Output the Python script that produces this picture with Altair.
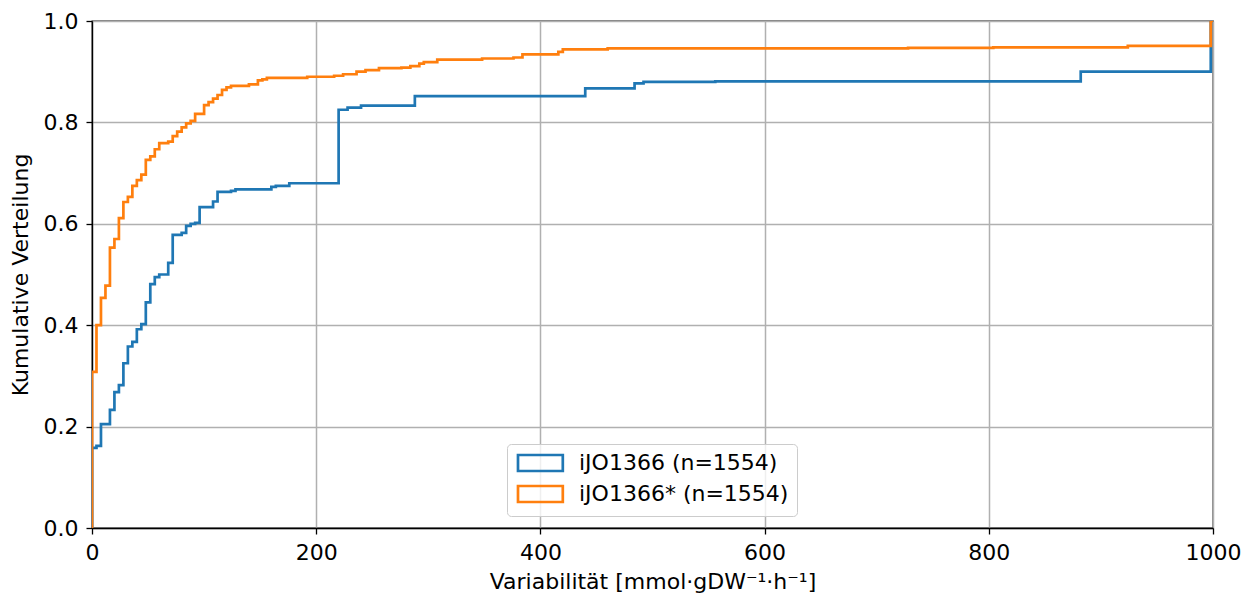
import altair as alt
import pandas as pd

blue_label = "iJO1366 (n=1554)"
orange_label = "iJO1366* (n=1554)"

blue_x = [0, 0, 4, 8, 16, 20, 24, 28, 32, 36, 40, 44, 48, 52, 56, 60, 68, 72, 80, 84, 88, 92, 96,
          108, 112, 124, 128, 160, 164, 176, 220, 228, 240, 288, 440, 484, 492, 556, 882, 998, 1000]
blue_y = [0, 0.158, 0.162, 0.205, 0.233, 0.268, 0.282, 0.325, 0.358, 0.367, 0.392, 0.402, 0.445,
          0.481, 0.495, 0.500, 0.523, 0.578, 0.582, 0.596, 0.600, 0.602, 0.633, 0.644, 0.663, 0.665,
          0.668, 0.673, 0.675, 0.680, 0.825, 0.829, 0.833, 0.852, 0.867, 0.877, 0.880, 0.881, 0.900,
          1.0, 1.0]

orange_x = [0, 0, 4, 8, 12, 16, 20, 24, 28, 32, 36, 40, 44, 48, 52, 56, 60, 68, 72, 76, 80, 84, 88,
            92, 100, 104, 108, 112, 116, 120, 124, 140, 148, 152, 156, 192, 216, 224, 236, 244, 256,
            276, 284, 292, 296, 308, 348, 376, 384, 416, 420, 460, 728, 804, 924, 998, 1000]
orange_y = [0, 0.308, 0.400, 0.454, 0.478, 0.553, 0.570, 0.611, 0.643, 0.653, 0.675, 0.686, 0.697,
            0.726, 0.733, 0.747, 0.759, 0.762, 0.773, 0.782, 0.790, 0.798, 0.803, 0.817, 0.834,
            0.840, 0.847, 0.854, 0.864, 0.869, 0.872, 0.875, 0.883, 0.885, 0.888, 0.890, 0.892,
            0.895, 0.900, 0.903, 0.907, 0.908, 0.911, 0.916, 0.919, 0.924, 0.926, 0.928, 0.934,
            0.939, 0.944, 0.946, 0.947, 0.948, 0.951, 1.0, 1.0]

x_ticks = [0, 200, 400, 600, 800, 1000]
y_ticks = [0.0, 0.2, 0.4, 0.6, 0.8, 1.0]

rows = []
for i, (x, y) in enumerate(zip(blue_x, blue_y)):
    rows.append({"x": x, "y": y, "series": blue_label, "i": i})
for i, (x, y) in enumerate(zip(orange_x, orange_y)):
    rows.append({"x": x, "y": y, "series": orange_label, "i": i})
df = pd.DataFrame(rows)

FONT = "DejaVu Sans"

chart = alt.Chart(df).mark_line(
    interpolate="step-after", strokeWidth=2.7, clip=True
).encode(
    x=alt.X("x:Q", scale=alt.Scale(domain=[0, 1000], nice=False),
            axis=alt.Axis(values=x_ticks, format="d",
                          title="Variabilität [mmol·gDW⁻¹·h⁻¹]",
                          labelPadding=8, titlePadding=8, labelFlush=False)),
    y=alt.Y("y:Q", scale=alt.Scale(domain=[0, 1], nice=False),
            axis=alt.Axis(values=y_ticks, format=".1f",
                          title="Kumulative Verteilung",
                          labelPadding=8, titlePadding=11, labelFlush=False)),
    color=alt.Color("series:N",
                    scale=alt.Scale(domain=[blue_label, orange_label],
                                    range=["#1f77b4", "#ff7f0e"]),
                    legend=alt.Legend(title=None, orient="none", legendX=415, legendY=423,
                                      symbolType="M-1,-1H4.6V1H-1Z", symbolSize=256,
                                      symbolStrokeWidth=2.7, symbolFillColor="transparent",
                                      labelFontSize=22, labelFont=FONT, labelColor="black",
                                      labelLimit=0,
                                      labelOffset=42, padding=8, rowPadding=3,
                                      strokeColor="#cccccc",
                                      fillColor="rgba(255,255,255,0.8)",
                                      cornerRadius=4)),
    order=alt.Order("i:Q"),
).properties(
    width=1121, height=507,
    autosize=alt.AutoSizeParams(type="none"),
    padding={"left": 92, "top": 21, "right": 35, "bottom": 66},
    background="white",
).configure_view(
    stroke="black", strokeWidth=1.3
).configure_axis(
    labelFont=FONT, titleFont=FONT, labelFontSize=22, titleFontSize=22,
    titleFontWeight="normal", labelColor="black", titleColor="black",
    tickColor="black", tickSize=6, tickWidth=1.3,
    domainColor="black", domainWidth=1.3,
    gridColor="#b0b0b0", gridWidth=1.5, grid=True,
)

chart.save("out.html", embed_options={"renderer": "svg", "actions": False})
